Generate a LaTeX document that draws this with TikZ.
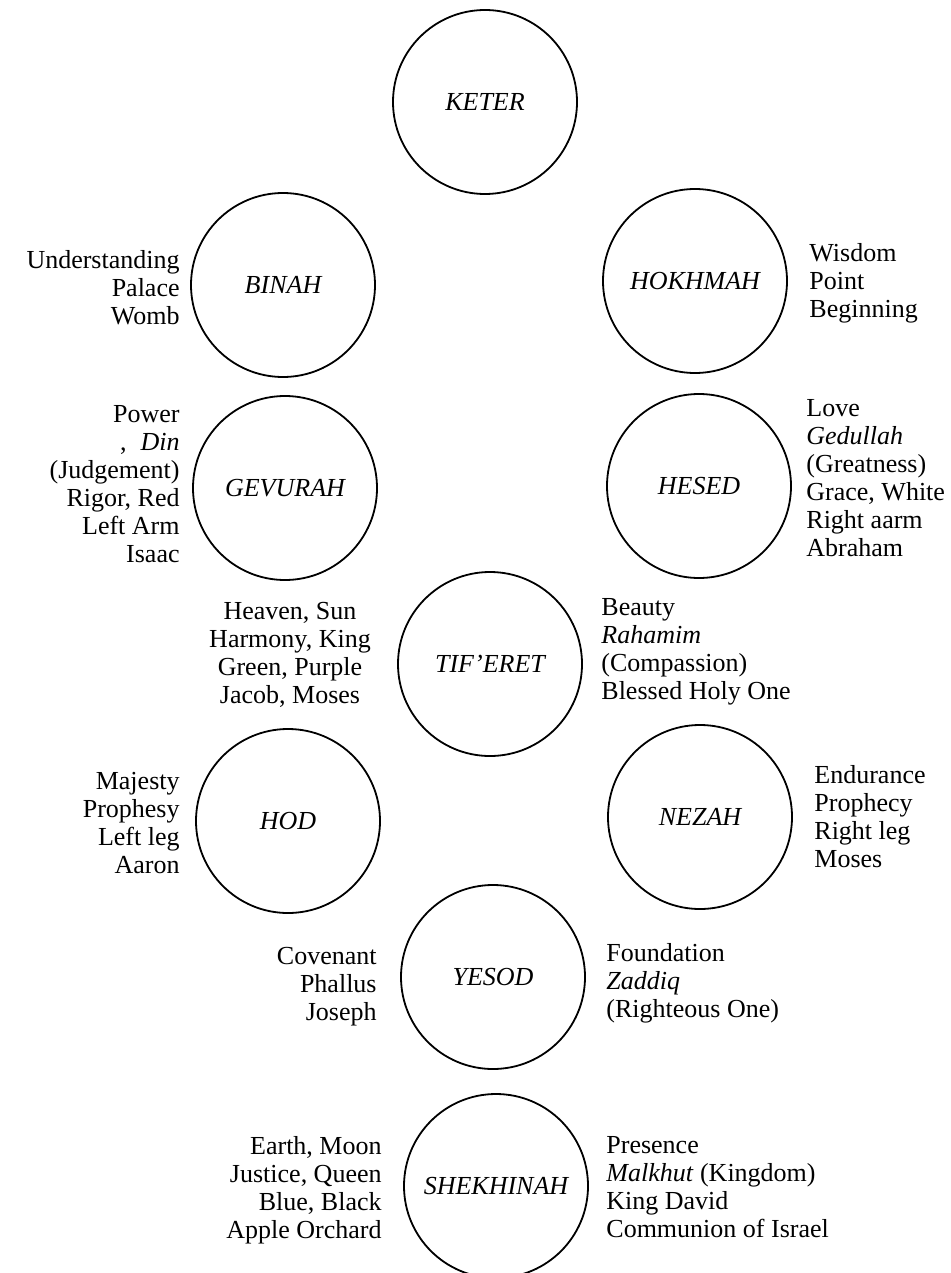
\documentclass[tikz,border=0pt]{standalone}
\usepackage{fontspec}
\setmainfont{Liberation Serif}
\usepackage{tikz}

\begin{document}
\begin{tikzpicture}[x=0.5pt, y=-0.5pt,
    every node/.style={font=\fontsize{13}{14}\selectfont, inner sep=0pt},
    sefira/.style={circle, draw, line width=0.9pt, minimum size=92pt,
      font=\fontsize{13}{14}\selectfont\itshape},
    lbl/.style={anchor=east, align=right},
    rbl/.style={anchor=west, align=left}]
  \useasboundingbox (0,0) rectangle (950,1273);
  % The ten sefirot, top to bottom.
  \foreach \n/\x/\y/\t in {keter/485/102/KETER, binah/283/285/BINAH,
      hokhmah/695/281/HOKHMAH, gevurah/285/488/GEVURAH, hesed/699/486/HESED,
      tiferet/490/664/TIF’ERET, hod/288/821/HOD, nezah/700/817/NEZAH,
      yesod/493/977/YESOD, shekhinah/496/1186/SHEKHINAH}
    \node[sefira] (\n) at (\x,\y) {\t};
  % Left side.
  \node[lbl] (binahL) at (180,288) {Understanding\\Palace\\Womb};
  \node[lbl] (gevurahL) at (180,484)
    {Power\\,\hspace{7pt}\textit{Din}\\(Judgement)\\Rigor, Red\\Left Arm\\Isaac};
  \node[anchor=center, align=center] (tiferetL) at (290,655)
    {Heaven, Sun\\Harmony, King\\Green, Purple\\Jacob, Moses};
  \node[lbl] (hodL) at (180,823) {Majesty\\Prophesy\\Left leg\\Aaron};
  \node[lbl] (yesodL) at (377,987) {Covenant\\Phallus\\Joseph};
  \node[lbl] (shekhinahL) at (382,1190)
    {Earth, Moon\\Justice, Queen\\Blue, Black\\Apple Orchard};
  % Right side.
  \node[rbl] (hokhmahR) at (809,283) {Wisdom\\Point\\Beginning};
  \node[rbl] (hesedR) at (806,478)
    {Love\\\textit{Gedullah}\\(Greatness)\\Grace, White\\Right aarm\\Abraham};
  \node[rbl] (tiferetR) at (601,652)
    {Beauty\\\textit{Rahamim}\\(Compassion)\\Blessed Holy One};
  \node[rbl] (nezahR) at (814,817) {Endurance\\Prophecy\\Right leg\\Moses};
  \node[rbl] (yesodR) at (606,983) {Foundation\\\textit{Zaddiq}\\(Righteous One)};
  \node[rbl] (shekhinahR) at (606,1187)
    {Presence\\\textit{Malkhut} (Kingdom)\\King David\\Communion of Israel};
\end{tikzpicture}
\end{document}
